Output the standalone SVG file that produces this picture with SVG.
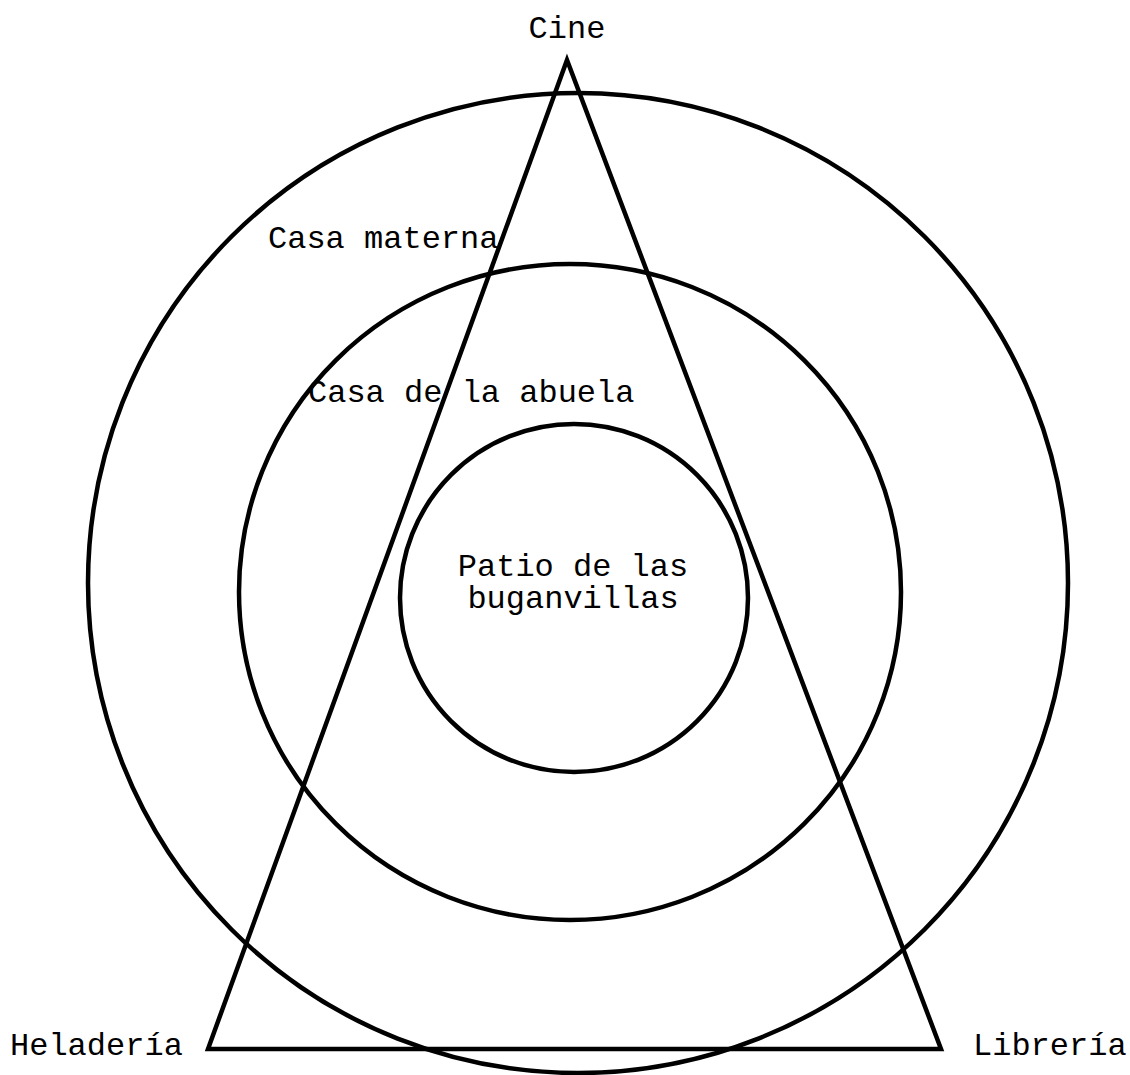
<svg xmlns="http://www.w3.org/2000/svg" width="1130" height="1075" viewBox="0 0 1130 1075">
<style>
.s{fill:none;stroke:#000;stroke-width:4.5}
text{font-family:"Liberation Mono","Courier New",monospace;font-size:32px;fill:#000}
</style>
<rect width="1130" height="1075" fill="#fff"/>
<g id="outer"><circle class="s" cx="578" cy="583" r="490"/></g>
<g id="middle"><ellipse class="s" cx="570" cy="592" rx="331" ry="328"/></g>
<g id="inner"><circle class="s" cx="574" cy="598" r="174"/></g>
<g id="connectors"><polygon class="s" points="567,60 941,1049 208,1049"/></g>
<g id="labels">
<text x="567" y="38" text-anchor="middle">Cine</text>
<text x="268" y="248">Casa materna</text>
<text x="308" y="402">Casa de la abuela</text>
<text x="573" y="576" text-anchor="middle">Patio de las</text>
<text x="573" y="608" text-anchor="middle">buganvillas</text>
<text x="10" y="1055">Heladería</text>
<text x="973" y="1055">Librería</text>
</g>
</svg>
